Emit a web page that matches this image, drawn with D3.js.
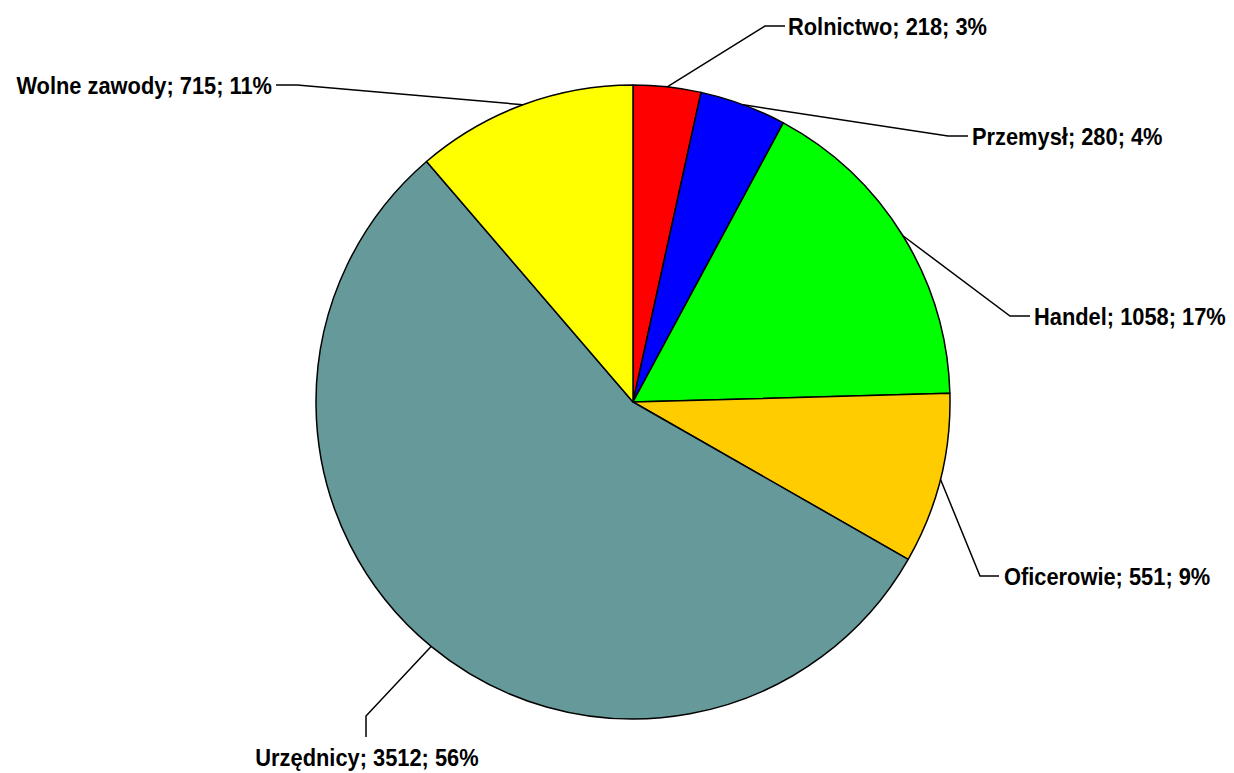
<!DOCTYPE html>
<html>
<head>
<meta charset="utf-8">
<script src="https://cdn.jsdelivr.net/npm/d3@7"></script>
<style>
  body { margin: 0; background: #fff; }
  .lbl { font-family: "Liberation Sans", Arial, sans-serif; font-weight: bold; font-size: 24px; fill: #000; }
</style>
</head>
<body>
<div id="chart"></div>
<script>
// Data
var categories = ["Rolnictwo", "Przemysł", "Handel", "Oficerowie", "Urzędnicy", "Wolne zawody"];
var values = [218, 280, 1058, 551, 3512, 715];
var percents = ["3%", "4%", "17%", "9%", "56%", "11%"];
var colors = ["#FF0000", "#0000FF", "#00FF00", "#FFCC00", "#669999", "#FFFF00"];

// Label layout: elbow point, end of leader, text anchor
var labelLayout = [
  { elbow: [765, 26], end: [785, 26], text: [788, 26], anchor: "start" },
  { elbow: [948, 136], end: [968, 136], text: [972, 136], anchor: "start" },
  { elbow: [1010, 316], end: [1030, 316], text: [1034, 316], anchor: "start" },
  { elbow: [980, 576], end: [999, 576], text: [1004, 576], anchor: "start" },
  { elbow: [366, 716], end: [366, 737], text: [367, 757], anchor: "middle" },
  { elbow: [297, 85], end: [276, 85], text: [272, 85], anchor: "end" }
];

var svgWidth = 1234;
var svgHeight = 773;
var cx = 633, cy = 402, radius = 317;

var svg = d3.select("#chart")
  .append("svg")
  .attr("width", svgWidth)
  .attr("height", svgHeight);

var data = categories.map(function(c, i) {
  return { name: c, value: values[i], pct: percents[i], color: colors[i], layout: labelLayout[i] };
});

var pie = d3.pie()
  .sort(null)
  .value(function(d) { return d.value; });

var arc = d3.arc()
  .innerRadius(0)
  .outerRadius(radius);

var arcs = pie(data);

var g = svg.append("g")
  .attr("transform", `translate(${cx}, ${cy})`);

// Slices
g.selectAll("path.slice")
  .data(arcs)
  .enter()
  .append("path")
  .attr("class", "slice")
  .attr("d", arc)
  .attr("fill", function(d) { return d.data.color; })
  .attr("stroke", "#000")
  .attr("stroke-width", 1.5)
  .attr("stroke-linejoin", "round");

// Leader lines start at arc midpoint on the rim
svg.selectAll("polyline.leader")
  .data(arcs)
  .enter()
  .append("polyline")
  .attr("class", "leader")
  .attr("fill", "none")
  .attr("stroke", "#000")
  .attr("stroke-width", 1.5)
  .attr("points", function(d) {
    var a = (d.startAngle + d.endAngle) / 2;
    var sx = cx + radius * Math.sin(a);
    var sy = cy - radius * Math.cos(a);
    var L = d.data.layout;
    return [[sx, sy], L.elbow, L.end].map(function(p) { return p.join(","); }).join(" ");
  });

// Labels
svg.selectAll("text.lbl")
  .data(arcs)
  .enter()
  .append("text")
  .attr("class", "lbl")
  .attr("text-anchor", function(d) { return d.data.layout.anchor; })
  .attr("transform", function(d) {
    var t = d.data.layout.text;
    return `translate(${t[0]}, ${t[1]}) scale(0.91, 1)`;
  })
  .attr("dy", "0.36em")
  .text(function(d) { return d.data.name + "; " + d.data.value + "; " + d.data.pct; });
</script>
</body>
</html>
